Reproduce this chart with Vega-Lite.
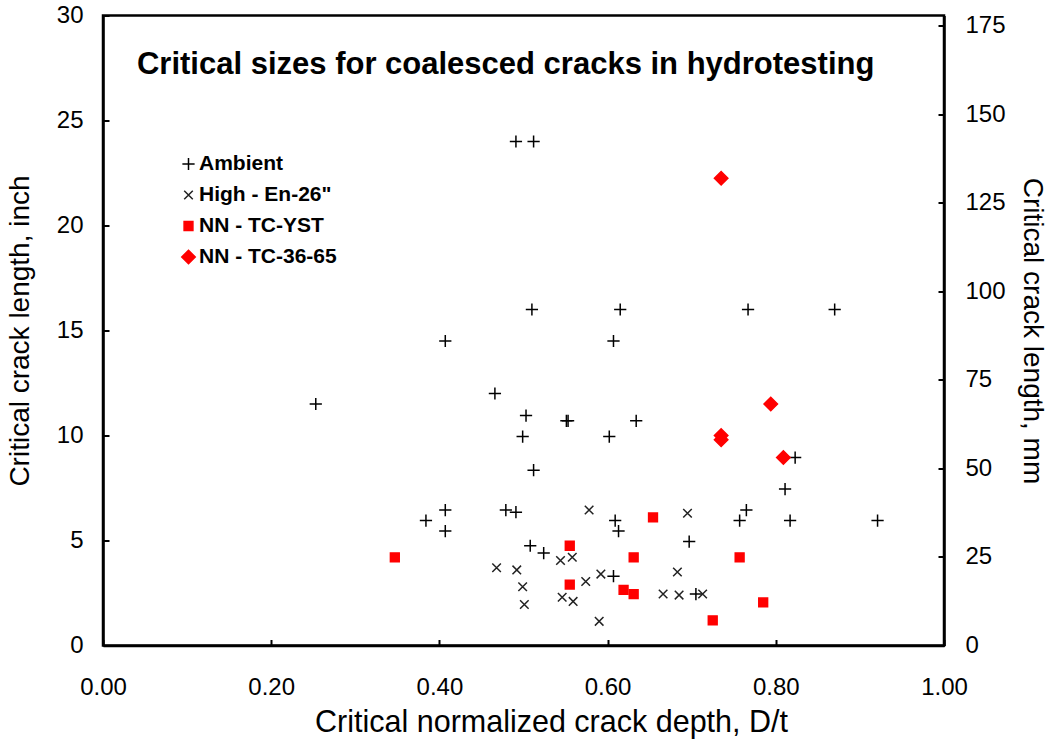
{
  "$schema": "https://vega.github.io/schema/vega-lite/v6.json",
  "width": 841,
  "height": 630,
  "autosize": {"type": "none"},
  "padding": {"left": 103, "top": 15.5, "right": 111, "bottom": 96.5},
  "background": "white",
  "config": {
    "font": "Liberation Sans",
    "view": {"stroke": "black", "strokeWidth": 2.5},
    "axis": {
      "grid": false,
      "domainColor": "black",
      "domainWidth": 2.5,
      "tickColor": "black",
      "tickWidth": 2,
      "tickSize": -6,
      "labelFlush": false,
      "labelFont": "Liberation Sans",
      "labelFontSize": 24,
      "labelColor": "black",
      "titleFont": "Liberation Sans",
      "titleFontSize": 28,
      "titleFontWeight": "normal",
      "titleColor": "black"
    },
    "legend": {
      "orient": "none",
      "legendX": 75,
      "legendY": 138,
      "padding": 0,
      "labelFont": "Liberation Sans",
      "labelFontSize": 21,
      "labelFontWeight": "bold",
      "labelColor": "black",
      "symbolSize": 150,
      "symbolStrokeWidth": 1.5,
      "rowPadding": 9,
      "labelOffset": 0
    }
  },
  "layer": [
    {
      "layer": [
        {
          "data": {
            "values": [
              {"x": 0.253, "y": 11.5, "s": "Ambient"},
              {"x": 0.466, "y": 12.0, "s": "Ambient"},
              {"x": 0.503, "y": 10.95, "s": "Ambient"},
              {"x": 0.551, "y": 10.7, "s": "Ambient"},
              {"x": 0.553, "y": 10.7, "s": "Ambient"},
              {"x": 0.499, "y": 9.95, "s": "Ambient"},
              {"x": 0.602, "y": 9.95, "s": "Ambient"},
              {"x": 0.634, "y": 10.7, "s": "Ambient"},
              {"x": 0.512, "y": 8.35, "s": "Ambient"},
              {"x": 0.384, "y": 5.95, "s": "Ambient"},
              {"x": 0.407, "y": 6.45, "s": "Ambient"},
              {"x": 0.407, "y": 5.45, "s": "Ambient"},
              {"x": 0.479, "y": 6.45, "s": "Ambient"},
              {"x": 0.491, "y": 6.35, "s": "Ambient"},
              {"x": 0.609, "y": 5.95, "s": "Ambient"},
              {"x": 0.613, "y": 5.45, "s": "Ambient"},
              {"x": 0.508, "y": 4.75, "s": "Ambient"},
              {"x": 0.524, "y": 4.4, "s": "Ambient"},
              {"x": 0.607, "y": 3.3, "s": "Ambient"},
              {"x": 0.697, "y": 4.95, "s": "Ambient"},
              {"x": 0.705, "y": 2.45, "s": "Ambient"},
              {"x": 0.765, "y": 6.45, "s": "Ambient"},
              {"x": 0.757, "y": 5.95, "s": "Ambient"},
              {"x": 0.817, "y": 5.95, "s": "Ambient"},
              {"x": 0.921, "y": 5.95, "s": "Ambient"},
              {"x": 0.811, "y": 7.45, "s": "Ambient"},
              {"x": 0.823, "y": 8.95, "s": "Ambient"},
              {"x": 0.491, "y": 24.0, "s": "Ambient"},
              {"x": 0.512, "y": 24.0, "s": "Ambient"},
              {"x": 0.51, "y": 16.0, "s": "Ambient"},
              {"x": 0.615, "y": 16.0, "s": "Ambient"},
              {"x": 0.767, "y": 16.0, "s": "Ambient"},
              {"x": 0.87, "y": 16.0, "s": "Ambient"},
              {"x": 0.607, "y": 14.5, "s": "Ambient"},
              {"x": 0.407, "y": 14.5, "s": "Ambient"},
              {"x": 0.468, "y": 3.7, "s": "High - En-26\""},
              {"x": 0.492, "y": 3.6, "s": "High - En-26\""},
              {"x": 0.499, "y": 2.8, "s": "High - En-26\""},
              {"x": 0.501, "y": 1.95, "s": "High - En-26\""},
              {"x": 0.544, "y": 4.05, "s": "High - En-26\""},
              {"x": 0.558, "y": 4.2, "s": "High - En-26\""},
              {"x": 0.578, "y": 6.45, "s": "High - En-26\""},
              {"x": 0.574, "y": 3.05, "s": "High - En-26\""},
              {"x": 0.592, "y": 3.4, "s": "High - En-26\""},
              {"x": 0.546, "y": 2.3, "s": "High - En-26\""},
              {"x": 0.559, "y": 2.1, "s": "High - En-26\""},
              {"x": 0.59, "y": 1.15, "s": "High - En-26\""},
              {"x": 0.695, "y": 6.3, "s": "High - En-26\""},
              {"x": 0.683, "y": 3.5, "s": "High - En-26\""},
              {"x": 0.666, "y": 2.45, "s": "High - En-26\""},
              {"x": 0.685, "y": 2.4, "s": "High - En-26\""},
              {"x": 0.713, "y": 2.45, "s": "High - En-26\""},
              {"x": 0.347, "y": 4.2, "s": "NN - TC-YST"},
              {"x": 0.555, "y": 4.75, "s": "NN - TC-YST"},
              {"x": 0.555, "y": 2.9, "s": "NN - TC-YST"},
              {"x": 0.631, "y": 4.2, "s": "NN - TC-YST"},
              {"x": 0.619, "y": 2.65, "s": "NN - TC-YST"},
              {"x": 0.631, "y": 2.45, "s": "NN - TC-YST"},
              {"x": 0.654, "y": 6.1, "s": "NN - TC-YST"},
              {"x": 0.757, "y": 4.2, "s": "NN - TC-YST"},
              {"x": 0.785, "y": 2.05, "s": "NN - TC-YST"},
              {"x": 0.725, "y": 1.2, "s": "NN - TC-YST"},
              {"x": 0.735, "y": 22.25, "s": "NN - TC-36-65"},
              {"x": 0.794, "y": 11.5, "s": "NN - TC-36-65"},
              {"x": 0.735, "y": 10.0, "s": "NN - TC-36-65"},
              {"x": 0.735, "y": 9.8, "s": "NN - TC-36-65"},
              {"x": 0.809, "y": 8.95, "s": "NN - TC-36-65"}
            ]
          },
          "mark": {"type": "point", "opacity": 1, "strokeWidth": 1.5, "size": 150},
          "encoding": {
            "x": {
              "field": "x",
              "type": "quantitative",
              "scale": {"domain": [0, 1], "nice": false},
              "axis": {
                "title": "Critical normalized crack depth, D/t",
                "titleFontSize": 30.5,
                "titleX": 448,
                "titleAlign": "center",
                "values": [0, 0.2, 0.4, 0.6, 0.8, 1],
                "format": ".2f",
                "labelPadding": 36,
                "titlePadding": 8
              }
            },
            "y": {
              "field": "y",
              "type": "quantitative",
              "scale": {"domain": [0, 30], "nice": false},
              "axis": {
                "orient": "left",
                "title": "Critical crack length, inch",
                "values": [0, 5, 10, 15, 20, 25, 30],
                "labelPadding": 26,
                "titlePadding": 22
              }
            },
            "shape": {
              "field": "s",
              "type": "nominal",
              "scale": {
                "domain": ["Ambient", "High - En-26\"", "NN - TC-YST", "NN - TC-36-65"],
                "range": [
                  "M-1,0H1M0,-1V1",
                  "M-0.7,-0.7L0.7,0.7M0.7,-0.7L-0.7,0.7",
                  "M-0.72,-0.72H0.72V0.72H-0.72Z",
                  "M-1.1,0L0,-1.1L1.1,0L0,1.1Z"
                ]
              },
              "legend": {"title": null}
            },
            "stroke": {
              "field": "s",
              "type": "nominal",
              "scale": {
                "domain": ["Ambient", "High - En-26\"", "NN - TC-YST", "NN - TC-36-65"],
                "range": ["#000000", "#222222", "#FF0000", "#FF0000"]
              },
              "legend": {"title": null}
            },
            "fill": {
              "field": "s",
              "type": "nominal",
              "scale": {
                "domain": ["Ambient", "High - En-26\"", "NN - TC-YST", "NN - TC-36-65"],
                "range": ["transparent", "transparent", "#FF0000", "#FF0000"]
              },
              "legend": {"title": null}
            }
          }
        },
        {
          "data": {"values": [{"t": "Critical sizes for coalesced cracks in hydrotesting"}]},
          "mark": {
            "type": "text",
            "font": "Liberation Sans",
            "fontSize": 31,
            "fontWeight": "bold",
            "color": "black",
            "align": "left",
            "baseline": "alphabetic"
          },
          "encoding": {
            "text": {"field": "t"},
            "x": {"datum": 0.0404},
            "y": {"datum": 27.2}
          }
        }
      ]
    },
    {
      "data": {"values": [{"mm": 0}, {"mm": 177.8}]},
      "mark": {"type": "point", "opacity": 0},
      "encoding": {
        "y": {
          "field": "mm",
          "type": "quantitative",
          "scale": {"domain": [0, 177.8], "nice": false},
          "axis": {
            "orient": "right",
            "title": "Critical crack length, mm",
            "values": [0, 25, 50, 75, 100, 125, 150, 175],
            "labelPadding": 27,
            "titlePadding": 12
          }
        }
      }
    }
  ],
  "resolve": {"scale": {"y": "independent"}}
}
